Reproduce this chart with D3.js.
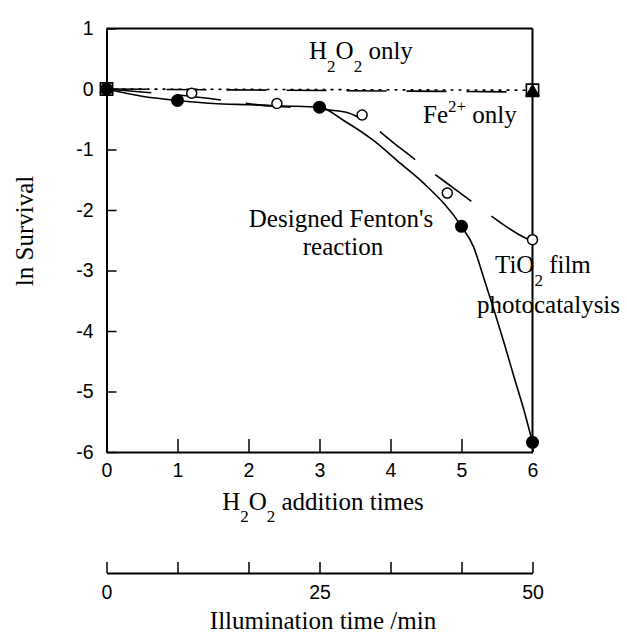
<!DOCTYPE html>
<html><head><meta charset="utf-8">
<script src="https://cdn.jsdelivr.net/npm/d3@7"></script>
<style>
html,body{margin:0;padding:0;background:#fff;}
svg{display:block;}
.tick text{font-family:"Liberation Sans",Arial,sans-serif;font-size:19.5px;fill:#000;}
.serif{font-family:"Liberation Serif","Times New Roman",serif;font-size:25px;fill:#000;}
</style>
</head><body>
<script>
// ---- data ----
const xTicks = [0,1,2,3,4,5,6];
const yTicks = [1,0,-1,-2,-3,-4,-5,-6];
const illumTicks = [0,25,50];
// Designed Fenton's reaction (markers)
const fentonX = [0,1,3,5,6];
const fentonY = [0,-0.19,-0.30,-2.27,-5.84];
// Designed Fenton's reaction (drawn fitted curve)
const fentonCurveX = [0,0.5,1,1.5,2,2.5,3,3.34,3.76,4.14,4.47,5,5.17,5.31,5.46,5.60,5.74,5.88,5.96,6];
const fentonCurveY = [0,-0.12,-0.19,-0.24,-0.26,-0.28,-0.30,-0.52,-0.85,-1.23,-1.56,-2.27,-2.61,-3.11,-3.66,-4.20,-4.76,-5.31,-5.66,-5.84];
// TiO2 film photocatalysis (markers)
const tioX = [0,1.2,2.4,3.6,4.8,6];
const tioY = [0,-0.07,-0.24,-0.43,-1.72,-2.49];
// TiO2 fitted dashed curve
const tioCurveX = [0,0.5,1.0,1.67,2.2,2.6,3.36,3.6,4.12,4.42,4.96,5.27,5.8,6];
const tioCurveY = [0,-0.05,-0.10,-0.19,-0.27,-0.30,-0.38,-0.50,-0.96,-1.23,-1.70,-1.97,-2.40,-2.52];
// H2O2 only
const h2o2X = [0,6];
const h2o2Y = [0,-0.02];
// Fe2+ only
const fe2X = [0,6];
const fe2Y = [0,-0.05];

const W = 627, H = 633;
const x = d3.scaleLinear().domain([0,6]).range([106.5,532.5]);
const y = d3.scaleLinear().domain([-6,1]).range([452,28.5]);
const xIll = d3.scaleLinear().domain([0,50]).range([106.5,532.5]);

const svg = d3.select("body").append("svg").attr("width",W).attr("height",H);

// frame top and right
svg.append("line").attr("x1",x(0)).attr("x2",x(6)).attr("y1",y(1)).attr("y2",y(1)).attr("stroke","#000").attr("stroke-width",2);
svg.append("line").attr("x1",x(6)).attr("x2",x(6)).attr("y1",y(1)).attr("y2",y(-6)).attr("stroke","#000").attr("stroke-width",2);

// axes
const gx = svg.append("g").attr("transform",`translate(0,${y(-6)})`)
  .call(d3.axisBottom(x).tickValues(xTicks).tickFormat(d3.format("d")).tickSizeInner(-13).tickSizeOuter(0).tickPadding(11));
const gy = svg.append("g").attr("transform",`translate(${x(0)},0)`)
  .call(d3.axisLeft(y).tickValues(yTicks).tickFormat(d3.format("d")).tickSizeInner(-10).tickSizeOuter(0).tickPadding(13));
[gx,gy].forEach(g=>{g.select(".domain").attr("stroke-width",2); g.selectAll(".tick line").attr("stroke-width",1.5);});
gy.selectAll(".tick text").text(d=>d<0?"-"+Math.abs(d):d);

// second axis: illumination time
const illAll = d3.range(0,7).map(i=>i*50/6);
const gi = svg.append("g").attr("transform","translate(0,573)")
  .call(d3.axisBottom(xIll).tickValues(illAll).tickSizeInner(-11).tickSizeOuter(0).tickPadding(12)
    .tickFormat(d=>{const r=Math.round(d*100)/100; return illumTicks.includes(r)?String(r):"";}));
gi.select(".domain").attr("stroke-width",2);
gi.selectAll(".tick line").attr("stroke-width",1.5);

// lines
const pts = (xs,ys)=>xs.map((v,i)=>[v,ys[i]]);
const lineM = d3.line().x(d=>x(d[0])).y(d=>y(d[1])).curve(d3.curveMonotoneX);
const lineL = d3.line().x(d=>x(d[0])).y(d=>y(d[1]));

svg.append("path").attr("d",lineL(pts(h2o2X,h2o2Y))).attr("fill","none").attr("stroke","#000").attr("stroke-width",1.6).attr("stroke-dasharray","3,5");
svg.append("path").attr("d",lineL(pts(fe2X,fe2Y))).attr("fill","none").attr("stroke","#000").attr("stroke-width",1.6).attr("stroke-dasharray","40,20");
svg.append("path").attr("d",lineM(pts(tioCurveX,tioCurveY))).attr("fill","none").attr("stroke","#000").attr("stroke-width",1.6).attr("stroke-dasharray","45,25");
svg.append("path").attr("d",lineM(pts(fentonCurveX,fentonCurveY))).attr("fill","none").attr("stroke","#000").attr("stroke-width",1.6);

// markers
const sq = d3.symbol().type(d3.symbolSquare).size(150);
const tri = d3.symbol().type(d3.symbolTriangle).size(95);
svg.selectAll(".sq").data(pts(h2o2X,h2o2Y)).join("path").attr("class","sq")
  .attr("transform",d=>`translate(${x(d[0])},${y(d[1])})`).attr("d",sq).attr("fill","#fff").attr("stroke","#000").attr("stroke-width",1.6);
svg.selectAll(".tri").data(pts(fe2X,fe2Y)).join("path").attr("class","tri")
  .attr("transform",d=>`translate(${x(d[0])},${y(d[1])})`).attr("d",tri).attr("fill","#000");
svg.selectAll(".oc").data(pts(tioX,tioY)).join("circle").attr("class","oc")
  .attr("cx",d=>x(d[0])).attr("cy",d=>y(d[1])).attr("r",5).attr("fill","#fff").attr("stroke","#000").attr("stroke-width",1.5);
svg.selectAll(".fc").data(pts(fentonX,fentonY)).join("circle").attr("class","fc")
  .attr("cx",d=>x(d[0])).attr("cy",d=>y(d[1])).attr("r",6.5).attr("fill","#000");

// labels
function txt(xp,yp,anchor){return svg.append("text").attr("class","serif").attr("x",xp).attr("y",yp).attr("text-anchor",anchor||"start");}
let t = txt(309,59);
t.append("tspan").text("H");
t.append("tspan").attr("dy",13).attr("font-size",17).text("2");
t.append("tspan").attr("dy",-13).text("O");
t.append("tspan").attr("dy",13).attr("font-size",17).text("2");
t.append("tspan").attr("dy",-13).text(" only");

t = txt(423,123);
t.append("tspan").text("Fe");
t.append("tspan").attr("dy",-11).attr("font-size",17).text("2+");
t.append("tspan").attr("dy",11).text(" only");

txt(341,227,"middle").text("Designed Fenton's");
txt(343,255,"middle").text("reaction");

t = txt(495,273);
t.append("tspan").text("TiO");
t.append("tspan").attr("dy",13).attr("font-size",17).text("2");
t.append("tspan").attr("dy",-13).text(" film");
txt(477,313).text("photocatalysis");

t = txt(323,510,"middle");
t.append("tspan").text("H");
t.append("tspan").attr("dy",12).attr("font-size",17).text("2");
t.append("tspan").attr("dy",-12).text("O");
t.append("tspan").attr("dy",12).attr("font-size",17).text("2");
t.append("tspan").attr("dy",-12).text(" addition times");

txt(323,629,"middle").text("Illumination time /min");

svg.append("text").attr("class","serif").attr("text-anchor","middle")
  .attr("transform","translate(33,231) rotate(-90)").text("ln Survival");
</script>
</body></html>
